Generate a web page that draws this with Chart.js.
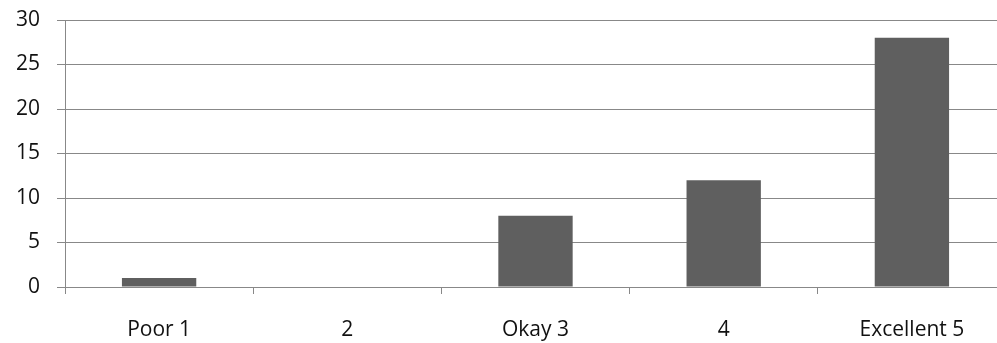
<!DOCTYPE html>
<html>
<head>
<meta charset="utf-8">
<script src="https://cdn.jsdelivr.net/npm/chart.js@4"></script>
<style>
  html, body { margin: 0; padding: 0; background: #fff; overflow: hidden; }
  #wrap { width: 1006px; height: 343px; }
</style>
</head>
<body>
<div id="wrap"><canvas id="grafico"></canvas></div>
<script>
// Dados do gráfico
const categorias = ['Poor 1', '2', 'Okay 3', '4', 'Excellent 5'];
const valores = [1, 0, 8, 12, 28];
const ticksY = [0, 5, 10, 15, 20, 25, 30];

const ctx = document.getElementById('grafico').getContext('2d');
new Chart(ctx, {
  type: 'bar',
  data: {
    labels: categorias,
    datasets: [{
      data: valores,
      backgroundColor: '#5f5f5f',
      barPercentage: 0.395,
      categoryPercentage: 1,
    }],
  },
  options: {
    responsive: true,
    maintainAspectRatio: false,
    animation: false,
    layout: { padding: { top: 20, right: 0, left: 0, bottom: 0 } },
    plugins: {
      legend: { display: false },
      tooltip: { enabled: false },
    },
    scales: {
      x: {
        offset: true,
        afterFit: (axis) => { axis.height = 56; },
        grid: {
          offset: true,
          drawOnChartArea: false,
          drawTicks: true,
          tickLength: 7,
          color: '#888',
        },
        border: { color: '#888', width: 1 },
        ticks: {
          color: '#111',
          padding: 23,
          font: { family: 'Open Sans', size: 21 },
        },
      },
      y: {
        min: 0,
        max: 30,
        afterFit: (axis) => {
          axis.width = 65;
          axis.paddingTop = 0;
          axis.paddingBottom = 0;
        },
        afterBuildTicks: (axis) => { axis.ticks = ticksY.map(v => ({ value: v })); },
        grid: { color: '#888', tickLength: 8 },
        border: { color: '#888', width: 1 },
        ticks: {
          color: '#111',
          padding: 17,
          font: { family: 'Open Sans', size: 21 },
        },
      },
    },
  },
});
</script>
</body>
</html>
